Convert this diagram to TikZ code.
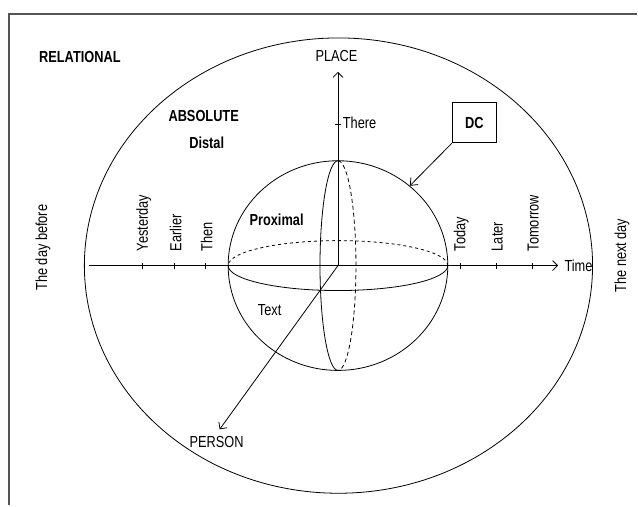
\documentclass[tikz,border=0pt]{standalone}
\usepackage{fontspec}
\setmainfont[FakeStretch=0.8]{Liberation Sans}
\usetikzlibrary{arrows.meta,shapes.geometric,calc}
\definecolor{FrameGray}{HTML}{555555}

\begin{document}
\begin{tikzpicture}[x=1pt,y=1pt,line width=0.8pt,
    lbl/.style={font=\fontsize{16}{19}\selectfont},
    blbl/.style={font=\fontsize{16}{19}\selectfont\bfseries},
    axis/.style={-{Straight Barb[length=5pt,width=10pt]}}]
  \fill[white] (0,0) rectangle (638,506);
  \draw[FrameGray,line width=2pt] (9,0)--(9,492)--(638,492);
  \coordinate (O) at (338.5,240);
  % shells
  \draw (339,240) ellipse [x radius=254.5,y radius=228];
  \node[draw,ellipse,minimum width=220pt,minimum height=210pt,inner sep=0pt] (sphere) at (O) {};
  \draw[dash pattern=on 3pt off 3pt] (O) ++(110,0) arc[start angle=0,end angle=180,x radius=110,y radius=25];
  \draw (O) ++(110,0) arc[start angle=0,end angle=-180,x radius=110,y radius=25];
  \draw (O) ++(0,105) arc[start angle=90,end angle=270,x radius=18,y radius=105];
  \draw[dash pattern=on 4pt off 3pt] (O) ++(0,105) arc[start angle=90,end angle=-90,x radius=18,y radius=105];
  % axes
  \coordinate (tL) at (89,240);
  \coordinate (tR) at (559,240);
  \coordinate (pTop) at (338.5,434);
  \coordinate (pers) at (220,76);
  \draw[axis] (tL) -- (tR);
  \draw[axis] (O) -- (pTop);
  \draw[axis] (O) -- (pers);
  \node[lbl,anchor=west,inner sep=1pt,xshift=5pt] (time) at (tR) {Time};
  \node[lbl] (place) at (337,450) {PLACE};
  \node[lbl] (person) at (217,63) {PERSON};
  \draw (335.5,381) -- (341.5,381);
  \node[lbl,anchor=west,inner sep=1pt] (there) at (342,383) {There};
  \foreach \x/\lab in {143/Yesterday,175/Earlier,206/Then,461/Today,497/Later,533/Tomorrow}{
    \draw (\x,237) -- (\x,243);
    \node[lbl,rotate=90,anchor=west,inner sep=0pt] (tk-\x) at (\x+1,254) {\lab};
  }
  % labels
  \node[draw,blbl,minimum width=44pt,minimum height=40pt] (dc) at (475,383) {DC};
  \draw[-{Straight Barb[length=6pt,width=10pt]}] (dc.south west) -- (sphere.48);
  \node[blbl] (rel) at (80,449) {RELATIONAL};
  \node[blbl] (abs) at (204,390) {ABSOLUTE};
  \node[blbl] (distal) at (207,363) {Distal};
  \node[blbl] (prox) at (277,286) {Proximal};
  \node[lbl] (txt) at (270,195) {Text};
  \node[lbl,rotate=90] (before) at (43,258) {The day before};
  \node[lbl,rotate=90] (next) at (623,250) {The next day};
\end{tikzpicture}
\end{document}
